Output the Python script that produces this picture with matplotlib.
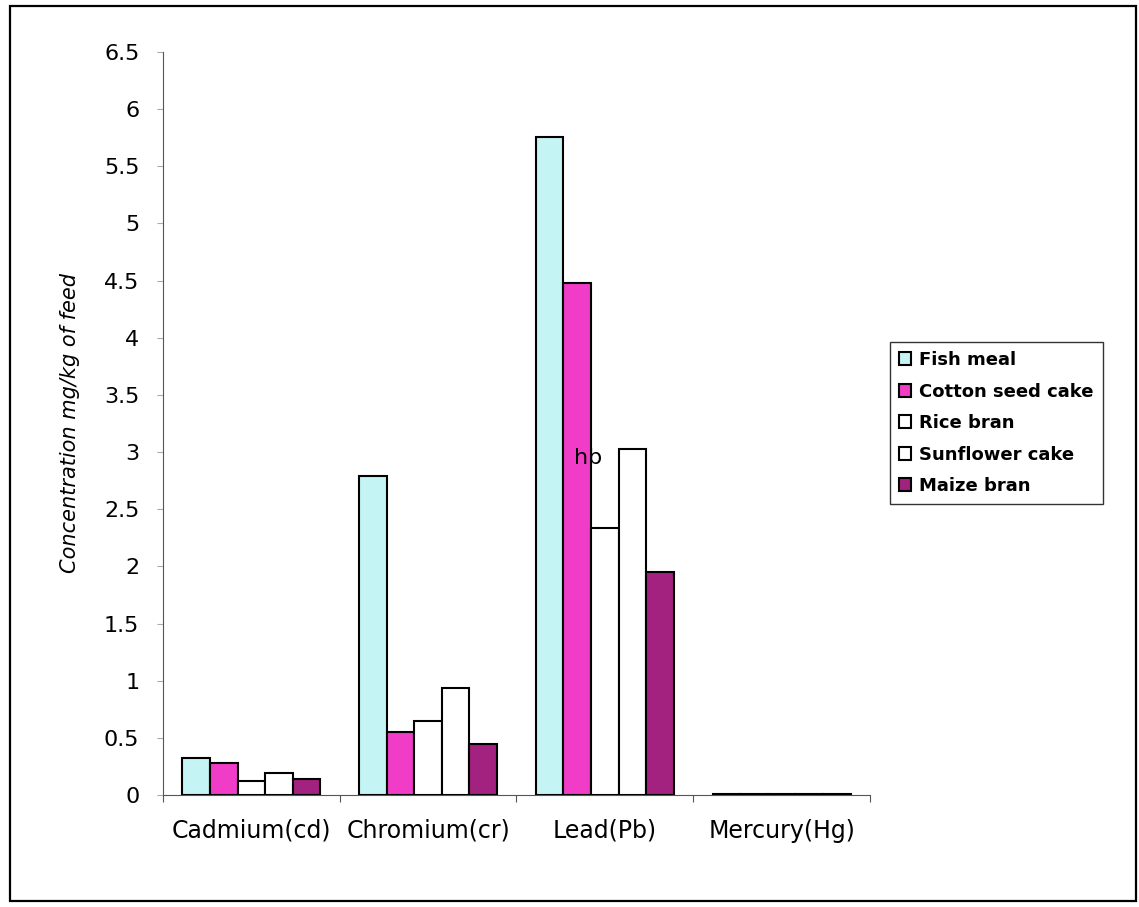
import numpy as np
import matplotlib
matplotlib.use('Agg')
import matplotlib.pyplot as plt
from matplotlib.patches import Rectangle

plt.rcParams['font.family'] = ['DejaVu Sans']

# 重金属种类与饲料类别
metals = ['Cadmium(cd)', 'Chromium(cr)', 'Lead(Pb)', 'Mercury(Hg)']
feeds = ['Fish meal', 'Cotton seed cake', 'Rice bran', 'Sunflower cake', 'Maize bran']

# 各饲料的浓度 mg/kg
fish_meal = [0.32, 2.79, 5.76, 0.01]
cotton_seed_cake = [0.28, 0.55, 4.48, 0.01]
rice_bran = [0.12, 0.65, 2.34, 0.01]
sunflower_cake = [0.19, 0.94, 3.03, 0.01]
maize_bran = [0.14, 0.45, 1.95, 0.01]

y_ticks = [0, 0.5, 1, 1.5, 2, 2.5, 3, 3.5, 4, 4.5, 5, 5.5, 6, 6.5]
y_tick_labels = ['0', '0.5', '1', '1.5', '2', '2.5', '3', '3.5', '4', '4.5', '5', '5.5', '6', '6.5']

series = [fish_meal, cotton_seed_cake, rice_bran, sunflower_cake, maize_bran]
colors = ['#c4f4f4', '#f03cc6', '#ffffff', '#ffffff', '#a3217f']

fig = plt.figure(figsize=(11.39, 9.07), dpi=100)
ax = fig.add_axes([0.1431, 0.1235, 0.6207, 0.8192])

x = np.arange(len(metals))
w = 0.156
for i, (vals, c) in enumerate(zip(series, colors)):
    ax.bar(x + (i - 2) * w, vals, width=w, color=c, edgecolor='black',
           linewidth=1.5, label=feeds[i], zorder=3)

ax.set_xlim(-0.5, 3.5)
ax.set_ylim(0, 6.5)

# 分组边界刻度 + 类别标签
ax.set_xticks([-0.5, 0.5, 1.5, 2.5, 3.5])
ax.set_xticklabels([])
ax.set_xticks(x, minor=True)
ax.set_xticklabels(metals, minor=True, fontsize=17)
ax.tick_params(axis='x', which='major', length=5, direction='out', color='#555555')
ax.tick_params(axis='x', which='minor', length=0, pad=17)

ax.set_yticks(y_ticks)
ax.set_yticklabels(y_tick_labels, fontsize=16)
ax.tick_params(axis='y', length=4, direction='out', color='#aaaaaa', pad=13)

ax.spines['top'].set_visible(False)
ax.spines['right'].set_visible(False)
ax.spines['left'].set_color('#555555')
ax.spines['bottom'].set_color('#555555')

ax.set_ylabel('Concentration mg/kg of feed', fontsize=15, style='italic')
ax.yaxis.set_label_coords(-0.117, 0.5)

ax.text(1.907, 2.95, 'hb', fontsize=16, ha='center', va='center', zorder=4)

leg = fig.legend(loc='upper left', bbox_to_anchor=(0.781, 0.623),
                 prop={'weight': 'bold', 'size': 13}, frameon=True, fancybox=False,
                 edgecolor='black', handlelength=0.7, handleheight=0.7,
                 handletextpad=0.45, labelspacing=0.75, borderpad=0.5, borderaxespad=0)
leg.get_frame().set_linewidth(1.0)
for h in leg.legend_handles:
    h.set_linewidth(1.5)

# 外边框
fig.patches.append(Rectangle((0.0088, 0.0066), 0.9886, 0.9868, transform=fig.transFigure,
                             fill=False, edgecolor='black', linewidth=1.6))

fig.savefig('out.png', dpi=100)
